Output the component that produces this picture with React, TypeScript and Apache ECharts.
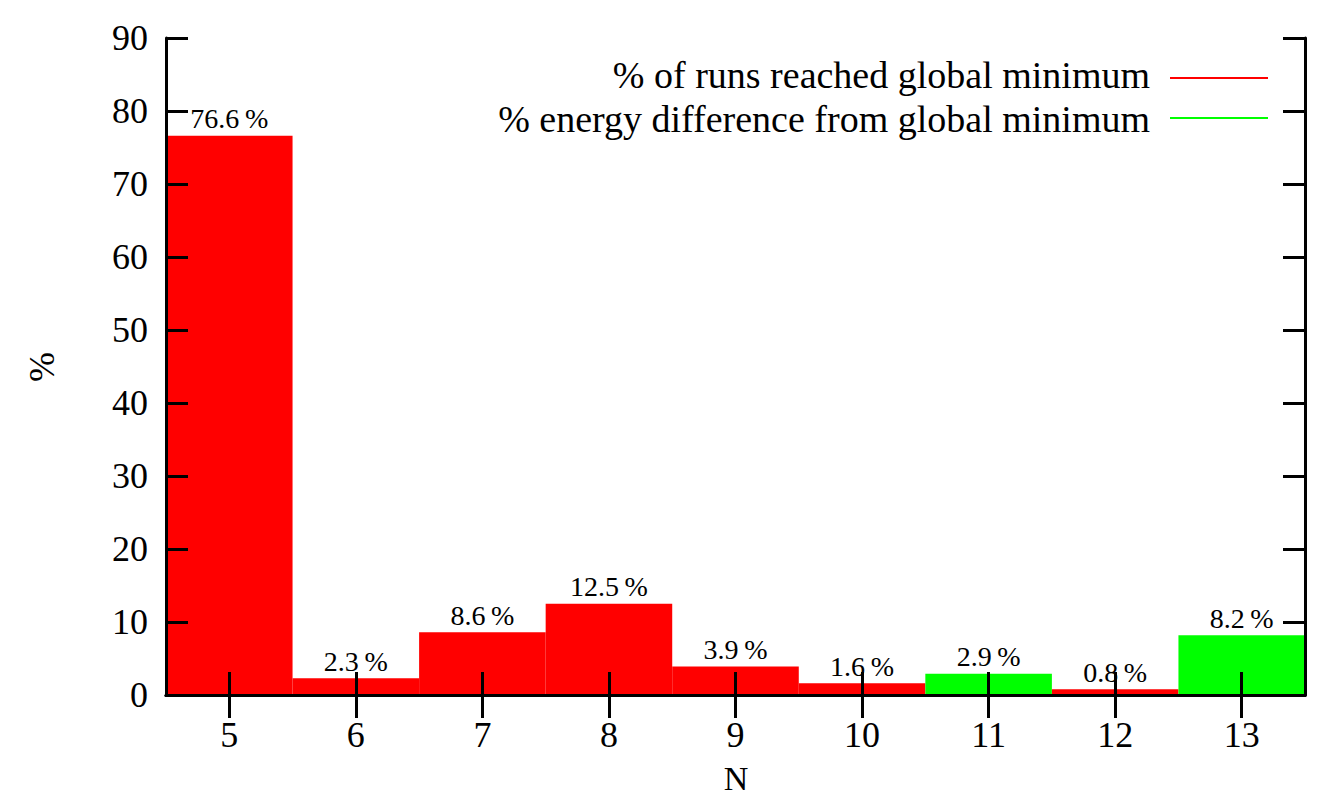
import React, { useEffect, useRef } from "react";
import * as echarts from "echarts";

const categories = ["5", "6", "7", "8", "9", "10", "11", "12", "13"];
const reachedValues: (number | null)[] = [76.6, 2.3, 8.6, 12.5, 3.9, 1.6, null, 0.8, null];
const energyDiffValues: (number | null)[] = [null, null, null, null, null, null, 2.9, null, 8.2];
const yTicks = { min: 0, max: 90, interval: 10 };
const legendNames = ["% of runs reached global minimum", "% energy difference from global minimum"];
const colors = ["#ff0000", "#00ff00"];

const FONT = "'Liberation Serif', serif";

export default function App() {
  const ref = useRef<HTMLDivElement>(null);
  useEffect(() => {
    if (!ref.current) return;
    const chart = echarts.init(ref.current, null, { renderer: "svg" });
    const labelCfg = {
      show: true,
      position: "top" as const,
      distance: 3,
      fontFamily: FONT,
      fontSize: 28,
      lineHeight: 28,
      color: "#000",
      formatter: (p: any) => `${p.value}\u2009%`,
    };
    const axisLine = { show: true, lineStyle: { color: "#000", width: 3 } };
    const tickX = { show: true, inside: true, alignWithLabel: true, length: 23, lineStyle: { color: "#000", width: 3 } };
    const tickY = { show: true, inside: true, length: 22, lineStyle: { color: "#000", width: 3 } };
    const legendText = { fontFamily: FONT, fontSize: 38, lineHeight: 38, fill: "#000", align: "right", verticalAlign: "middle" };
    chart.setOption({
      animation: false,
      backgroundColor: "#fff",
      grid: { left: 166, right: 26, top: 38, bottom: 105, containLabel: false },
      xAxis: [
        {
          type: "category",
          data: categories,
          position: "bottom",
          z: 10,
          axisLine,
          axisTick: tickX,
          axisLabel: { fontFamily: FONT, fontSize: 36, color: "#000", margin: 22 },
          splitLine: { show: false },
        },
        {
          type: "category",
          data: categories,
          position: "top",
          z: 10,
          axisLine,
          axisTick: tickX,
          axisLabel: { show: false },
          splitLine: { show: false },
        },
      ],
      yAxis: [
        {
          type: "value",
          min: yTicks.min,
          max: yTicks.max,
          interval: yTicks.interval,
          position: "left",
          z: 10,
          axisLine,
          axisTick: tickY,
          axisLabel: { fontFamily: FONT, fontSize: 36, color: "#000", margin: 18 },
          splitLine: { show: false },
        },
        {
          type: "value",
          min: yTicks.min,
          max: yTicks.max,
          interval: yTicks.interval,
          position: "right",
          z: 10,
          axisLine,
          axisTick: tickY,
          axisLabel: { show: false },
          splitLine: { show: false },
        },
      ],
      series: [
        {
          name: legendNames[0],
          type: "bar",
          stack: "all",
          data: reachedValues,
          barWidth: "100%",
          barGap: "0%",
          barCategoryGap: "0%",
          itemStyle: { color: colors[0] },
          label: labelCfg,
          z: 1,
        },
        {
          name: legendNames[1],
          type: "bar",
          stack: "all",
          data: energyDiffValues,
          barWidth: "100%",
          barGap: "0%",
          barCategoryGap: "0%",
          itemStyle: { color: colors[1] },
          label: labelCfg,
          z: 1,
        },
      ],
      graphic: [
        { type: "text", x: 1150, y: 75, style: { ...legendText, text: legendNames[0] } },
        { type: "text", x: 1150, y: 119, style: { ...legendText, text: legendNames[1] } },
        { type: "line", shape: { x1: 1170, y1: 78, x2: 1268, y2: 78 }, style: { stroke: colors[0], lineWidth: 2 } },
        { type: "line", shape: { x1: 1170, y1: 118, x2: 1268, y2: 118 }, style: { stroke: colors[1], lineWidth: 2 } },
        {
          type: "text",
          x: 42,
          y: 367,
          rotation: Math.PI / 2,
          style: { text: "%", fontFamily: FONT, fontSize: 36, fill: "#000", align: "center", verticalAlign: "middle" },
        },
        {
          type: "text",
          x: 736,
          y: 778,
          style: { text: "N", fontFamily: FONT, fontSize: 34, fill: "#000", align: "center", verticalAlign: "middle" },
        },
      ],
    });
    return () => chart.dispose();
  }, []);
  return <div ref={ref} style={{ width: 1331, height: 800, position: "absolute", left: 0, top: 0 }} />;
}
